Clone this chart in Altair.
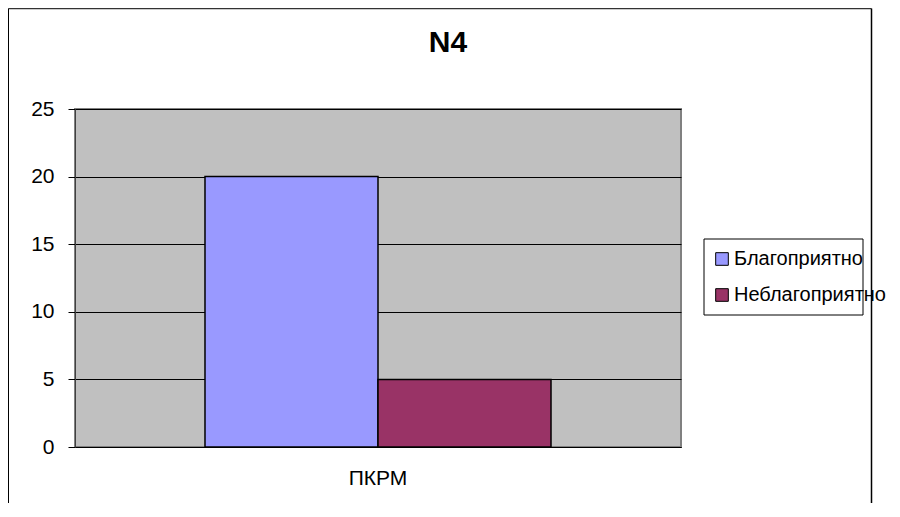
import altair as alt
import pandas as pd

categories = ["ПКРМ", "ПКРМ"]
series = ["Благоприятно", "Неблагоприятно"]
values = [20, 5]
colors = ["#9999FF", "#993366"]
y_ticks = [0, 5, 10, 15, 20, 25]

df = pd.DataFrame({"category": categories, "series": series, "value": values})

FONT = "Liberation Sans"
one = alt.Data(values=[{"k": 1}])

bars = alt.Chart(df).mark_bar(stroke="black", strokeWidth=1.5).encode(
    x=alt.X("category:N", title=None,
            scale=alt.Scale(paddingInner=0, paddingOuter=0.3757),
            axis=alt.Axis(labelAngle=0, ticks=False, labelFontSize=21,
                          labelPadding=20, labelColor="black",
                          domainColor="black", domainWidth=1, grid=False)),
    xOffset=alt.XOffset("series:N", sort=series,
                        scale=alt.Scale(paddingInner=0, paddingOuter=0)),
    y=alt.Y("value:Q", title=None,
            scale=alt.Scale(domain=[0, 25], nice=False),
            axis=alt.Axis(values=y_ticks, tickSize=7, tickColor="black",
                          labelFontSize=21, labelPadding=14, labelColor="black",
                          domainColor="#404040", grid=True, gridColor="black",
                          gridWidth=1)),
    color=alt.Color("series:N", sort=series,
                    scale=alt.Scale(domain=series, range=colors),
                    legend=alt.Legend(title=None, orient="none",
                                      legendX=637, legendY=140,
                                      symbolType="square", symbolSize=160,
                                      symbolStrokeColor="black",
                                      symbolStrokeWidth=1,
                                      labelFontSize=20, labelColor="black",
                                      labelOffset=2, rowPadding=16,
                                      labelLimit=300, padding=0)),
)

legend_box = alt.Chart(one).mark_rect(fill="white", stroke="black",
                                       strokeWidth=1).encode(
    x=alt.value(629), x2=alt.value(788), y=alt.value(130), y2=alt.value(206))

top_line = alt.Chart(one).mark_rule(color="#333333", strokeWidth=1.5).encode(
    x=alt.value(-66.5), x2=alt.value(796.5), y=alt.value(-100.5))
left_line = alt.Chart(one).mark_rule(color="black", strokeWidth=1).encode(
    x=alt.value(-66.5), y=alt.value(-100.5), y2=alt.value(400))
right_line = alt.Chart(one).mark_rule(color="black", strokeWidth=1.5).encode(
    x=alt.value(796.5), y=alt.value(-100.5), y2=alt.value(400))

chart = alt.layer(top_line, left_line, right_line, legend_box, bars).properties(
    width=606, height=338,
    padding={"left": 67, "top": 101, "right": 210, "bottom": 56},
    autosize="none",
    title=alt.TitleParams("N4", fontSize=30, fontWeight="bold", color="black",
                          anchor="middle", dx=70, offset=0, dy=74,
                          baseline="alphabetic", font=FONT),
).configure(
    font=FONT, background="white",
).configure_view(
    fill="#C0C0C0", stroke="#808080", strokeWidth=2,
).configure_axis(
    labelFont=FONT,
).configure_legend(
    labelFont=FONT,
)

chart.save("out.html", embed_options={"renderer": "svg", "actions": False})
